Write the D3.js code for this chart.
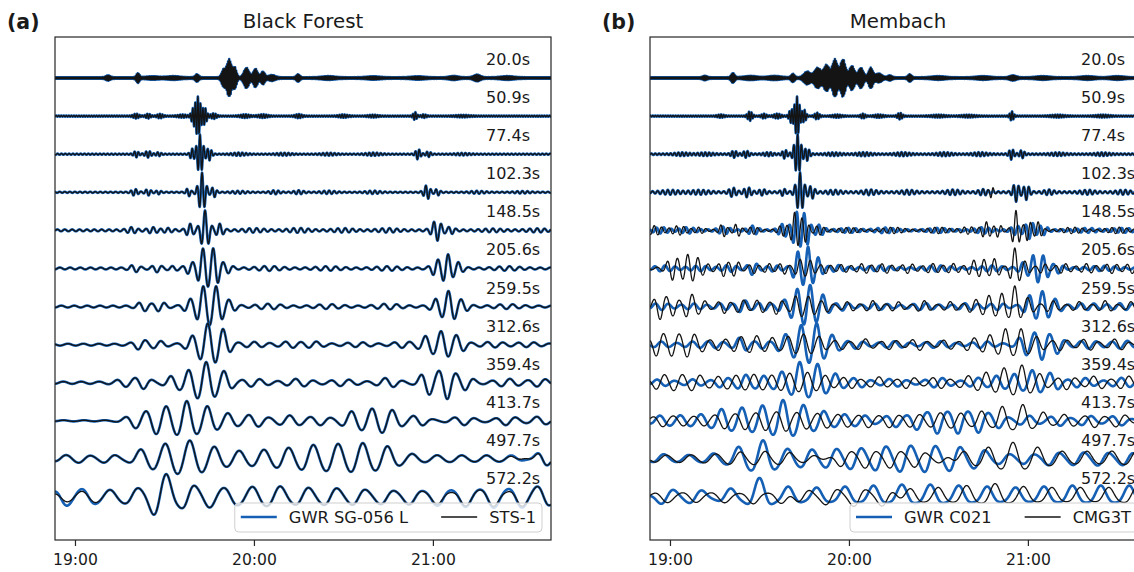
<!DOCTYPE html>
<html>
<head>
<meta charset="utf-8">
<script src="https://cdn.jsdelivr.net/npm/d3@7"></script>
<style>
body{margin:0;background:#fff;}
text{font-family:'DejaVu Sans',sans-serif;fill:#1a1a1a;}
</style>
</head>
<body>
<svg id="fig" width="1134" height="572"></svg>
<script>
// filter periods of the 12 bands (top to bottom)
const periods = [20.0, 50.9, 77.4, 102.3, 148.5, 205.6, 259.5, 312.6, 359.4, 413.7, 497.7, 572.2];
const periodLabels = periods.map(p => p.toFixed(1) + 's');
const tickLabels = ['19:00', '20:00', '21:00'];
const panelTitles = ['Black Forest', 'Membach'];
const panelTags = ['(a)', '(b)'];
const legendA = ['GWR SG-056 L', 'STS-1'];
const legendB = ['GWR C021', 'CMG3T'];

// wave packets: [minutes after 19:00, amplitude (1 = half spacing), width (min)]
// background level per band
const floorA = [0.04, 0.03, 0.03, 0.03, 0.05, 0.05, 0.05, 0.05, 0.06, 0.03, 0, 0];
const floorB = [0.04, 0.03, 0.04, 0.05, 0.05, 0.06, 0.06, 0.06, 0.06, 0.05, 0, 0];

const bfSG056 = [
  [[11.1,0.10,1.0],[21.1,0.22,0.7],[26,0.05,3],[33,0.06,3],[40.9,0.16,0.8],[49.8,0.4,0.9],[51.7,0.95,1.1],[53.6,0.5,0.8],[57.5,0.5,1.2],[60.5,0.45,1.0],[63,0.3,0.9],[66,0.12,1.5],[74.8,0.16,0.8],[85,0.06,3],[100,0.05,3],[115,0.05,3],[127,0.07,2],[134.8,0.14,1.5],[145,0.06,3]],
  [[20.5,0.10,1.2],[24.5,0.10,1.0],[28.5,0.09,1.2],[36,0.06,2],[39.5,0.25,0.8],[41.2,1.0,1.2],[43.5,0.4,0.9],[46.5,0.12,1.2],[57,0.07,2],[63,0.07,2],[75,0.08,1.5],[90,0.06,2],[100,0.05,2],[114.0,0.18,0.8],[117,0.07,1],[130,0.04,3]],
  [[20.5,0.14,1.0],[24.5,0.15,1.2],[28,0.08,1.0],[39.2,0.25,0.8],[41.9,1.0,1.3],[45,0.3,1.0],[55,0.06,3],[70,0.05,3],[85,0.05,3],[100,0.06,3],[115,0.25,1.0],[118.5,0.12,1.0],[130,0.04,3]],
  [[20,0.15,1.3],[24.5,0.14,1.2],[28,0.08,1.0],[38,0.2,0.9],[42.6,1.0,1.5],[46.5,0.25,1.0],[55,0.05,3],[67,0.08,2],[75,0.08,2],[85,0.06,3],[100,0.06,3],[118,0.35,1.3],[121.5,0.15,1.0],[135,0.05,3],[150,0.04,3]],
  [[19,0.12,2],[26,0.12,2],[31,0.08,2],[38.5,0.3,1.5],[43.6,1.0,1.8],[48.5,0.3,1.5],[60,0.07,4],[75,0.08,4],[90,0.07,4],[105,0.07,4],[121.3,0.5,2.0],[126,0.15,1.5],[140,0.05,4],[155,0.06,4]],
  [[20,0.15,2],[27.5,0.15,2],[33,0.08,2],[38.5,0.25,2],[42.9,0.95,2.2],[46.7,0.95,2.2],[51,0.2,2],[65,0.08,5],[85,0.07,5],[105,0.07,5],[121,0.35,2],[124.7,0.7,2.2],[128.5,0.25,2],[145,0.07,5]],
  [[22.8,0.2,2.5],[28.5,0.2,2.5],[38.5,0.3,2.5],[43.0,0.95,2.6],[47.4,0.95,2.6],[52,0.25,2.5],[65,0.1,5],[85,0.08,5],[105,0.1,5],[121.5,0.35,2.5],[125.7,0.75,2.6],[130,0.25,2.5],[145,0.08,5]],
  [[22,0.22,3],[28,0.15,3],[39.5,0.35,3],[44.5,1.0,3.2],[49.5,0.7,3],[60,0.1,5],[72,0.12,4],[80,0.12,4],[95,0.08,5],[110,0.12,4],[118,0.4,3],[123.4,0.65,3],[128.5,0.4,3],[140,0.1,5],[152,0.08,5]],
  [[17,0.15,4],[22.8,0.25,3],[32.8,0.3,3],[38.5,0.55,3],[44,1.0,3.5],[50,0.5,3],[60,0.15,5],[75,0.15,5],[90,0.12,5],[105,0.2,4],[118,0.55,3],[124.5,0.8,3.5],[131,0.3,3],[145,0.15,5],[156,0.15,4]],
  [[20,0.3,4],[26,0.45,4],[31,0.6,4],[37.5,0.95,3.5],[44.2,0.7,3.5],[51,0.35,4],[60,0.3,5],[72,0.25,5],[82,0.2,5],[93,0.45,4],[100,0.55,4],[106,0.5,4],[115,0.25,4],[130,0.2,5],[145,0.2,5],[156,0.2,4]],
  [[-4,0.18,4.5],[3,0.18,4.5],[11.7,0.22,4.5],[22.8,0.5,4.5],[30.8,0.75,4.5],[38.5,0.9,4.5],[46.3,0.6,4.5],[54.6,0.4,4.5],[62.9,0.45,4.5],[71,0.55,4.5],[79.3,0.7,4.5],[87.6,0.75,4.5],[95.9,0.8,4.5],[104.2,0.65,4.5],[112.5,0.25,4.5],[121,0.18,4.5],[129,0.18,4.5],[137.5,0.18,4.5],[146,0.18,4.5],[156.9,0.45,3]],
  [[-4,0.45,4.5],[4,0.4,4.5],[12,0.35,4.5],[20,0.45,4],[27,0.75,3.5],[30.8,0.95,3.5],[38,0.7,3.5],[45,0.5,4],[52,0.45,4.5],[60,0.5,4.5],[68,0.55,4.5],[77,0.5,4.5],[86,0.5,4.5],[95,0.45,4.5],[104,0.4,4.5],[113,0.4,4.5],[122,0.45,4.5],[131,0.5,4.5],[140,0.55,4.5],[149,0.55,4.5],[157,0.6,4]]
];
// STS-1 = SG-056 plus these small departures
const bfSTS1Extra = [[], [], [], [], [], [], [], [], [], [], [[150,-0.08,5]],
  [[-4,-0.22,4],[4,-0.12,4],[125,-0.12,6],[145,-0.14,6]]];

const mbGWR = [
  [[11.7,0.08,1],[21.1,0.22,0.8],[27,0.07,3],[35,0.07,3],[41.2,0.18,0.8],[46,0.3,1.5],[49.5,0.5,1.5],[52.5,0.65,1.3],[55.3,0.95,1.2],[58,0.95,1.2],[61,0.6,1.2],[64,0.5,1.2],[67.3,0.5,1.0],[70,0.2,1.5],[73.7,0.1,1],[80.4,0.16,0.8],[90,0.06,3],[105,0.06,3],[115,0.1,1.5],[125,0.06,3],[140,0.06,3],[150,0.06,3]],
  [[17,0.06,1.5],[26.8,0.22,1.0],[31.5,0.1,1.0],[36,0.1,1.5],[40.5,0.3,0.8],[42.6,1.0,1.1],[45,0.3,0.8],[49.3,0.15,1.0],[56,0.06,2],[64.7,0.1,1],[70,0.06,2],[77.1,0.15,1],[90,0.05,3],[100,0.05,3],[114.6,0.22,0.8],[130,0.05,3],[145,0.05,3]],
  [[4,0.06,3],[12,0.06,3],[21.5,0.15,1.2],[25.5,0.15,1.2],[33,0.07,2],[38.5,0.2,1],[42.8,1.0,1.4],[46,0.3,1.0],[55,0.06,3],[65,0.07,3],[78,0.07,3],[92,0.07,3],[104,0.07,3],[114.5,0.25,1.0],[118,0.18,1.0],[130,0.06,3],[145,0.06,3]],
  [[0,0.08,4],[10,0.08,4],[21,0.2,1.5],[26,0.22,1.5],[31,0.12,1.5],[38,0.15,1],[43.6,1.0,1.6],[47.5,0.3,1.2],[55,0.08,3],[67,0.1,3],[80,0.08,3],[95,0.1,3],[105,0.12,2],[116,0.45,1.3],[119.5,0.35,1.3],[127,0.1,2],[140,0.08,3],[152,0.08,3]],
  [[-3,0.12,3],[6,0.12,3],[18,0.15,2.5],[27.8,0.2,2],[38,0.3,2],[42.5,0.9,1.8],[45.5,0.8,1.6],[50,0.25,2],[60,0.08,4],[72,0.1,4],[90,0.08,4],[105,0.12,3],[116,0.2,2],[120.7,0.4,2],[125,0.2,2],[140,0.08,4],[152,0.08,4]],
  [[-2,0.1,4],[10,0.08,4],[20,0.12,3],[27.8,0.28,2],[35,0.1,3],[42.9,0.8,2],[46.3,1.0,1.8],[49.5,0.5,2],[56,0.12,3],[70,0.08,5],[90,0.1,5],[108,0.1,4],[118.5,0.25,2],[122.3,0.65,2],[125.5,0.55,2],[130,0.2,2],[145,0.08,5]],
  [[-3,0.12,4],[8,0.1,4],[18,0.12,3],[24.5,0.28,2.5],[31,0.15,3],[38,0.25,2.5],[42.6,0.8,2.6],[47,1.0,2.6],[51.3,0.5,2.5],[58,0.15,3],[70,0.1,5],[85,0.12,5],[100,0.12,5],[110,0.12,3],[120.7,0.5,2.5],[125,0.7,2.5],[129.3,0.3,2.5],[140,0.12,5],[152,0.12,5]],
  [[-3,0.1,4],[8,0.1,4],[15,0.12,4],[24,0.32,3],[31,0.15,3],[38.5,0.45,3],[44,0.9,3],[49.2,1.0,3],[54.5,0.4,3],[62,0.15,4],[75,0.12,5],[90,0.12,5],[105,0.12,4],[119,0.45,3],[124.3,0.7,3],[129.5,0.4,3],[140,0.15,5],[152,0.15,5]],
  [[-3,0.12,4],[8,0.12,4],[18,0.2,4],[25,0.35,3],[31,0.3,3],[37.5,0.5,3],[43.5,1.0,3],[49.5,0.9,3],[55.5,0.4,3],[63,0.2,4],[75,0.15,5],[90,0.2,5],[103,0.2,4],[110,0.3,3],[116,0.4,3],[122,0.6,3],[128,0.45,3],[138,0.2,5],[152,0.2,5]],
  [[-3,0.22,4],[4,0.22,4],[11,0.28,4],[17.8,0.55,3.5],[24.5,0.62,3.5],[31.2,0.72,3.5],[37.9,1.0,3.5],[44.4,0.75,3.5],[50.9,0.45,3.5],[58,0.28,4],[65,0.22,4],[75,0.28,4],[82.8,0.4,3.5],[89.5,0.6,3.5],[96.6,0.6,3.5],[103.5,0.55,3.5],[110,0.32,3.5],[120,0.22,4],[130,0.22,4],[140,0.22,4],[150,0.22,4]],
  [[-3,0.25,4.5],[6,0.2,4.5],[15,0.28,4.5],[23.5,0.62,4],[31.2,0.95,4],[39,0.5,4],[46.5,0.5,4],[54.5,0.55,4],[62.5,0.62,4],[70.8,0.72,4],[79,0.78,4],[87.2,0.78,4],[95.5,0.72,4],[103.7,0.55,4],[112,0.28,4],[120,0.28,4],[128.5,0.38,4],[137,0.38,4],[145,0.38,4],[153.5,0.38,4]],
  [[-1,0.45,4.5],[9,0.4,4.5],[20,0.45,4],[30,1.0,4],[40,0.55,4],[49.5,0.5,4],[59,0.55,4],[68.5,0.6,4],[78,0.65,4],[87.5,0.65,4],[97,0.6,4],[106.5,0.55,4],[116,0.5,4],[125.5,0.55,4],[135,0.6,4],[144.5,0.6,4],[154,0.6,4]]
];
// CMG3T: own packets for the long bands; null = GWR plus mbCMG3TExtra
const mbCMG3T = [null, null, null, null,
  [[-5,0.2,3],[3,0.2,3],[10,0.12,2],[17.8,0.3,1.5],[22.5,0.3,1.5],[28,0.15,2],[38,0.25,2],[42,0.9,1.6],[45,0.6,1.6],[50,0.2,2],[60,0.1,4],[75,0.12,4],[90,0.12,4],[100,0.15,3],[106,0.4,1.8],[110,0.3,1.5],[116,1.0,1.5],[120,0.5,1.5],[123.5,0.4,1.5],[135,0.12,4],[150,0.12,4]],
  [[1.0,0.55,2.5],[6.0,0.65,2.5],[9.5,0.4,2],[13,0.15,2],[18,0.35,2],[22,0.35,2],[28,0.2,2],[33,0.2,2],[38,0.25,2],[43.5,0.4,2],[47,0.35,2],[52,0.2,2],[58,0.15,3],[65,0.2,3],[72,0.2,3],[80,0.2,3],[88,0.2,3],[95,0.2,3],[101.5,0.35,2],[105,0.4,2],[109,0.45,2],[115.6,1.0,1.8],[119,0.3,2],[125,0.2,2],[132,0.2,3],[140,0.2,3],[148,0.2,3],[155,0.2,3]],
  [[-3.4,0.6,2.5],[1,0.4,2.5],[6.7,0.6,2.5],[11,0.25,2.5],[18,0.3,2.5],[24,0.3,2.5],[30,0.3,2.5],[36,0.35,2.5],[42.6,0.5,2.5],[47,0.45,2.5],[52,0.25,2.5],[60,0.2,3],[68,0.25,3],[76,0.2,3],[85,0.25,3],[94,0.2,3],[102,0.3,3],[107,0.5,2.5],[111.3,0.6,2],[115.6,1.0,2],[120,0.4,2.5],[128,0.25,3],[137,0.2,3],[146,0.25,3],[155,0.2,3]],
  [[-4,0.55,3],[1.2,0.5,3],[6.4,0.55,3],[11,0.25,3],[17,0.25,3],[23,0.35,3],[28.5,0.4,3],[34,0.3,3],[40,0.35,3],[45,0.45,3],[50,0.35,3],[57,0.2,3],[65,0.25,3.5],[74,0.2,3.5],[83,0.25,3.5],[93,0.2,3.5],[101,0.3,3],[107,0.45,3],[112.5,0.75,2.5],[117.7,0.75,2.5],[123,0.35,3],[131,0.25,3.5],[140,0.25,3.5],[150,0.25,3.5]],
  [[-3,0.35,3.5],[3,0.35,3.5],[9,0.35,3.5],[16,0.25,3.5],[22,0.3,3.5],[28,0.35,3.5],[34,0.3,3.5],[40,0.4,3.5],[46,0.45,3.5],[52,0.3,3.5],[60,0.25,4],[70,0.25,4],[80,0.25,4],[90,0.25,4],[100,0.3,4],[106,0.45,3],[112,0.7,3],[118,0.85,3],[124,0.4,3],[133,0.3,4],[143,0.3,4],[153,0.3,4]],
  [[-3,0.25,4],[4,0.2,4],[11,0.2,4],[17.8,0.35,3.5],[24.5,0.4,3.5],[31.2,0.45,3.5],[37.9,0.5,3.5],[44.4,0.4,3.5],[51,0.35,3.5],[58,0.3,4],[66,0.3,4],[74,0.3,4],[82,0.3,4],[90,0.35,4],[97,0.35,4],[104.5,0.45,3],[111.5,0.7,3],[118.3,0.8,3],[125,0.4,3],[133,0.3,4],[142,0.3,4],[151,0.3,4]],
  [[-3,0.2,5],[6,0.2,5],[15,0.25,5],[23,0.35,4],[31,0.4,4],[39,0.35,4],[47,0.2,4],[58.5,-0.45,4],[66.5,-0.5,4],[74.8,-0.5,4],[83,-0.45,4],[91,-0.2,4],[99,0.4,4],[107,0.6,4],[115,0.85,4],[123,0.6,4],[131,0.4,4],[139.5,0.4,4],[148,0.4,4],[156,0.4,4]],
  [[-2,0.3,5],[8,0.28,5],[18,0.3,5],[28,0.35,4],[37,0.35,4],[45,-0.4,4],[54,-0.5,4],[63,-0.55,4],[72,-0.5,4],[81,0.45,4],[90,0.5,4],[99.5,0.6,4],[109,0.7,4],[118.5,0.55,4],[128,0.5,4],[137.5,0.5,4],[147,0.5,4],[156,0.5,4]]
];
const mbCMG3TExtra = [[], [], [], [[107.9,0.25,0.8]]];

// ---------------------------------------------------------------
const W = 1134, H = 572;
const axTop = 37, axBottom = 540, axWidth = 496;
const tStart = -6.7, tEnd = 159.6, dt = 0.05;
const base = d3.timeParse('%H:%M')('19:00');
const at = m => new Date(base.getTime() + m * 60000);
const blue = '#1560b4', black = '#141414';

// carrier crest is pinned to the centre of the strongest packet
const refOf = packets => packets.reduce((a, b) => Math.abs(b[1]) > Math.abs(a[1]) ? b : a)[0];

function synth(packets, periodSec, floor, ref) {
  const pm = periodSec / 60;
  const pts = [];
  const n = Math.round((tEnd - tStart) / dt);
  for (let i = 0; i <= n; i++) {
    const t = tStart + i * dt;
    let env = floor;
    for (const [c, a, w] of packets) {
      const u = (t - c) / w;
      if (u > -4 && u < 4) env += a * Math.exp(-u * u);
    }
    pts.push([at(t), env * Math.cos(2 * Math.PI * (t - ref) / pm)]);
  }
  return pts;
}

const svg = d3.select('#fig');
svg.append('rect').attr('width', W).attr('height', H).attr('fill', '#fff');

const panels = [
  {left: 55, title: panelTitles[0], tag: panelTags[0], tagX: 7, legend: legendA, floor: floorA,
   gwr: i => bfSG056[i],
   seis: i => ({p: bfSG056[i].concat(bfSTS1Extra[i]), ref: refOf(bfSG056[i])})},
  {left: 650, title: panelTitles[1], tag: panelTags[1], tagX: 602, legend: legendB, floor: floorB,
   gwr: i => mbGWR[i],
   seis: i => mbCMG3T[i] ? {p: mbCMG3T[i], ref: refOf(mbCMG3T[i])}
                          : {p: mbGWR[i].concat(mbCMG3TExtra[i]), ref: refOf(mbGWR[i])}}
];

panels.forEach((pn, k) => {
  const right = pn.left + axWidth;
  const x = d3.scaleTime().domain([at(tStart), at(tEnd)]).range([pn.left, right]);
  const yOff = d3.scalePoint().domain(periodLabels).range([axTop + 41, axBottom - 43]);
  const amp = d3.scaleLinear().domain([-1, 1]).range([19, -19]);

  const g = svg.append('g');
  const clipId = 'clip' + k;
  g.append('clipPath').attr('id', clipId).append('rect')
    .attr('x', pn.left).attr('y', axTop).attr('width', axWidth).attr('height', axBottom - axTop);

  const traces = g.append('g').attr('clip-path', `url(#${clipId})`);
  periods.forEach((P, i) => {
    const y0 = yOff(periodLabels[i]);
    const line = d3.line().x(d => x(d[0])).y(d => y0 + amp(d[1]));
    const gp = pn.gwr(i);
    const s = pn.seis(i);
    traces.append('path').datum(synth(gp, P, pn.floor[i], refOf(gp)))
      .attr('d', line).attr('fill', 'none').attr('stroke', blue)
      .attr('stroke-width', 2.6).attr('stroke-linejoin', 'round');
    traces.append('path').datum(synth(s.p, P, pn.floor[i], s.ref))
      .attr('d', line).attr('fill', 'none').attr('stroke', black)
      .attr('stroke-width', 1.3).attr('stroke-linejoin', 'round');
    g.append('text').attr('x', pn.left + 431).attr('y', y0 - 13)
      .style('font-size', '16px').text(periodLabels[i]);
  });

  // legend (lower right, semi transparent like matplotlib)
  const lg = g.append('g');
  const box = lg.append('rect').attr('y', 503).attr('height', 29).attr('rx', 4)
    .attr('fill', '#fff').attr('fill-opacity', 0.8).attr('stroke', '#cfcfcf').attr('stroke-width', 1);
  const t1 = lg.append('text').attr('y', 523).style('font-size', '16.3px').text(pn.legend[0]);
  const t2 = lg.append('text').attr('y', 523).style('font-size', '16.3px').text(pn.legend[1]);
  const w1 = t1.node().getComputedTextLength(), w2 = t2.node().getComputedTextLength();
  const pad = 6, hl = 36, hg = 12, cg = 33;
  const total = pad + hl + hg + w1 + cg + hl + hg + w2 + pad;
  const bx = right - 9 - total;
  box.attr('x', bx).attr('width', total);
  let cx = bx + pad;
  lg.append('line').attr('x1', cx).attr('x2', cx + hl).attr('y1', 517).attr('y2', 517)
    .attr('stroke', blue).attr('stroke-width', 2.6);
  t1.attr('x', cx + hl + hg);
  cx += hl + hg + w1 + cg;
  lg.append('line').attr('x1', cx).attr('x2', cx + hl).attr('y1', 517).attr('y2', 517)
    .attr('stroke', black).attr('stroke-width', 1.3);
  t2.attr('x', cx + hl + hg);

  // frame
  g.append('rect').attr('x', pn.left).attr('y', axTop).attr('width', axWidth).attr('height', axBottom - axTop)
    .attr('fill', 'none').attr('stroke', '#262626').attr('stroke-width', 1.2);

  // time axis
  const xAxis = d3.axisBottom(x)
    .tickValues(tickLabels.map(s => d3.timeParse('%H:%M')(s)))
    .tickFormat(d3.timeFormat('%H:%M'))
    .tickSize(6).tickPadding(8);
  const ax = g.append('g').attr('transform', `translate(0,${axBottom})`).call(xAxis);
  ax.select('.domain').remove();
  ax.selectAll('line').attr('stroke', '#262626').attr('stroke-width', 1.2);
  ax.selectAll('text').style('font-size', '15.6px').style('font-family', "'DejaVu Sans',sans-serif").attr('fill', '#1a1a1a');

  // titles
  g.append('text').attr('x', (pn.left + right) / 2).attr('y', 28).attr('text-anchor', 'middle')
    .style('font-size', '19.8px').text(pn.title);
  g.append('text').attr('x', pn.tagX).attr('y', 29).style('font-size', '20.5px').style('font-weight', 'bold')
    .text(pn.tag);
});
</script>
</body>
</html>
